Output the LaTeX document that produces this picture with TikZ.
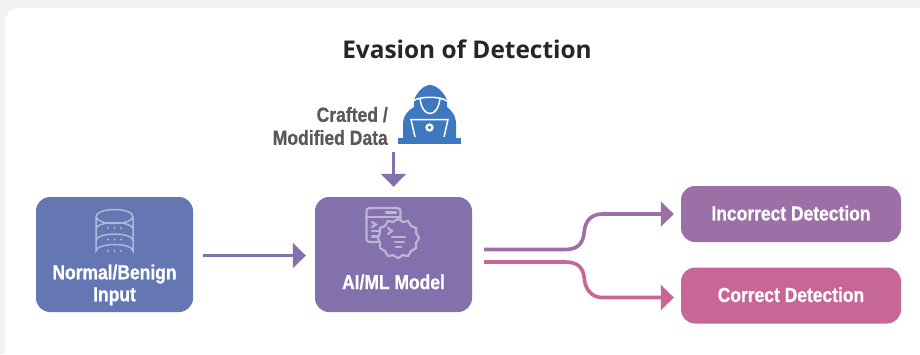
\documentclass[tikz,border=0pt]{standalone}
\usepackage{fontspec}
\usetikzlibrary{arrows.meta}
\setmainfont{Open Sans}
\newfontfamily\lab[FakeStretch=0.86,BoldFeatures={FakeBold=0.7}]{Liberation Sans}
\definecolor{bgc}{HTML}{F2F2F2}
\definecolor{cblue}{HTML}{6577B3}
\definecolor{cpur}{HTML}{8371AD}
\definecolor{cvio}{HTML}{9C70A6}
\definecolor{cpink}{HTML}{C76795}
\definecolor{chack}{HTML}{3E78BF}
\definecolor{cicon}{HTML}{BDB5D3}
\definecolor{cdb}{HTML}{AEB8D8}
\definecolor{ctxt}{HTML}{595959}
\tikzset{
  box/.style={draw=none,rounded corners=14pt,minimum width=157pt,inner sep=0pt},
  boxlabel/.style={inner sep=0pt,text=white,align=center,font=\lab\bfseries\fontsize{20.3}{22}\selectfont},
  conn/.style={line width=3.6pt,-{Triangle[length=13pt,width=25pt]}},
}
\begin{document}
\begin{tikzpicture}[x=1pt,y=-1pt]
\useasboundingbox (0,0) rectangle (920,354);
\fill[bgc] (0,0) rectangle (920,354);
\fill[white,rounded corners=14pt] (5,8) rectangle (940,380);
\node[font=\bfseries\fontsize{24.4}{28}\selectfont,text=black!85] (title) at (467,49) {Evasion of Detection};
% boxes
\node[box,fill=cblue,minimum height=115pt] (inp) at (114.5,254.5) {};
\node[box,fill=cpur,minimum height=115pt] (mod) at (393.5,254.5) {};
\node[box,fill=cvio,minimum width=220pt,minimum height=56pt] (inc) at (791,214) {};
\node[box,fill=cpink,minimum width=220pt,minimum height=56pt] (cor) at (791,295.5) {};
\node[boxlabel] (t1) at (114.5,285) {Normal/Benign\\Input};
\node[boxlabel] (t2) at (393.5,282) {AI/ML Model};
\node[boxlabel] (t3) at (791,213.2) {Incorrect Detection};
\node[boxlabel] (t4) at (791,294.7) {Correct Detection};
\node[anchor=east,align=right,text=ctxt,font=\lab\bfseries\fontsize{20.4}{23}\selectfont,inner sep=0pt] (craft) at (388,126) {Crafted /\\Modified Data};
% db icon
\begin{scope}[draw=cdb,line width=1.5pt,fill=none]
\draw (96,217) -- (96,251) arc[start angle=180,end angle=360,x radius=18.5,y radius=6.5] -- (133,217);
\draw (114.5,216.5) ellipse[x radius=18.5,y radius=7];
\draw (96,229) arc[start angle=180,end angle=360,x radius=18.5,y radius=6.5];
\draw (96,240.5) arc[start angle=180,end angle=360,x radius=18.5,y radius=6.5];
\foreach \yy in {228,239.5,251}\foreach \xx in {-6.5,0,6.5}
  \fill[cdb] (114.5+\xx,\yy) circle (1.1);
\end{scope}
% model icon
\begin{scope}[draw=cicon,line width=2.2pt,line cap=round]
\draw[rounded corners=3pt] (378,242) -- (366.5,242) -- (366.5,208) -- (400.5,208) -- (400.5,224);
\draw (367,217) -- (400,217);
\draw (386,212.5) -- (396,212.5);
\draw (372,222) -- (376,224.5) -- (372,227);
\draw (372,231) -- (382,231);
\draw (372,236.5) -- (378,236.5);
\draw[fill=cpur] plot[smooth cycle,tension=0.6] coordinates {(398,219)(403,222)(408,221)(411,226)(416,228)(416,233)(419,238)(416,243)(416,248)(411,251)(408,256)(403,255)(398,258)(393,255)(388,256)(385,251)(380,248)(380,243)(378,238)(380,233)(380,228)(385,226)(388,221)(393,222)};
\draw (388,228) -- (392,231) -- (388,234);
\draw (392,237) -- (405,237);
\draw (395,242) -- (404,242);
\draw (396,247) -- (401,247);
\end{scope}
% hacker icon
\fill[chack] (398,138) rectangle (461,144);
\fill[chack] (403,138) -- (403,124) .. controls (403,115) and (409,110) .. (414,107) -- (414,100) .. controls (417,92) and (424,85) .. (430,85) .. controls (436,85) and (444,92) .. (447,100) -- (447,107) .. controls (451,110) and (456,115) .. (456,124) -- (456,138) -- cycle;
\draw[white,line width=1.5pt] (413,101) .. controls (420,96) and (440,96) .. (447,101);
\draw[white,line width=1.5pt] (420,98) .. controls (421,108) and (425,113.5) .. (430,113.5) .. controls (435,113.5) and (439,108) .. (440,98);
\draw[white,line width=1.5pt,fill=chack] (415,137) -- (411,119.5) -- (448,119.5) -- (444,137);
\fill[white] (429.5,127.5) circle (4.2);
\fill[chack] (429.5,127.5) circle (1.9);
% connectors
\coordinate (hackbase) at (393.5,152);
\draw[conn,color=cpur] (hackbase) -- ([yshift=10pt]mod.north);
\draw[conn,color=cpur] ([xshift=10pt,yshift=-1pt]inp.east) -- ([xshift=-9pt,yshift=-1pt]mod.west);
\draw[conn,color=cvio] ([xshift=12pt,yshift=5pt]mod.east) -- ++(81,0) .. controls +(13,0) and +(-1,11) .. ++(19,-17.5) .. controls +(1,-12) and +(-10,0) .. ++(18,-18) -- ([xshift=-7pt]inc.west);
\draw[conn,color=cpink] ([xshift=12pt,yshift=-7.5pt]mod.east) -- ++(81,0) .. controls +(13,0) and +(-1,-10) .. ++(19,16) .. controls +(1,12) and +(-10,0) .. ++(18,19.5) -- ([xshift=-7pt,yshift=-2pt]cor.west);
\end{tikzpicture}
\end{document}
